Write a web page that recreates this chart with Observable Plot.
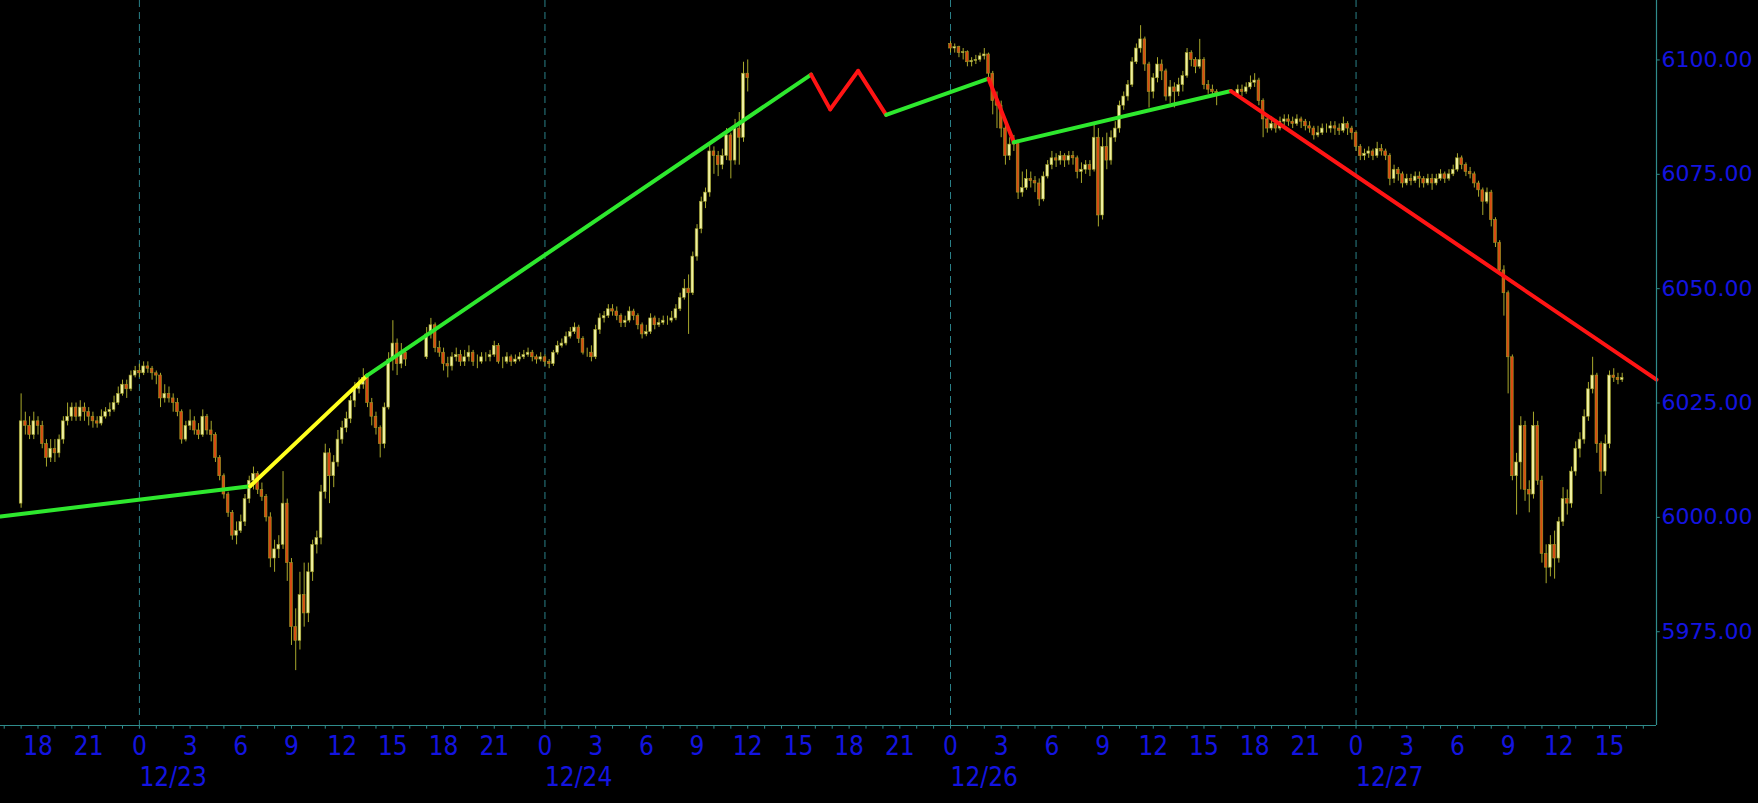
<!DOCTYPE html>
<html>
<head>
<meta charset="utf-8">
<script src="https://cdn.jsdelivr.net/npm/d3@7"></script>
<script src="https://cdn.jsdelivr.net/npm/@observablehq/plot@0.6"></script>
<style>
  html, body { margin: 0; padding: 0; background: #000; overflow: hidden; }
  #chart svg { display: block; }
</style>
</head>
<body>
<div id="chart"></div>
<script>
// Time is in hours from 12/23 00:00 (CT), with the 12/25 holiday removed from the axis.
// 15-minute candles, four sessions.
const sessionStart = [-7, 17, 48, 65];          // 12/22 17:00, 12/23 17:00, 12/26 00:00, 12/26 17:00
const sessionFirstOpen = [6003, 6035, 6103.5, 6092.5];

const closesA = [6021,6020,6018,6021,6020,6016,6013,6015,6014,6017,
6021,6022,6024,6022,6024,6023,6022,6021,6020.5,6022,
6023,6023.5,6025,6027,6029,6028,6031,6032,6031.5,6033,
6032.5,6031.5,6031,6026,6027,6026,6025,6023,6017,6020,
6021,6019,6018,6022,6019,6018,6013,6009,6005,6001,
5996,5997,5999,6004,6008,6009.5,6006,6004.5,6000,5991,
5993,5994,6003,5990,5976,5973,5983,5979,5988,5994,
5995.5,6005.5,6014,6009,6012,6017,6019.5,6021.5,6025.5,6028,
6029,6030.5,6025,6022,6019.5,6016,6024,6034.5,6038,6033.5,
6036,6034.5];
const highsA = [6027,6023,6022,6023,6022,6021,6017,6017,6017,6018,
6022,6025,6025,6025,6025.5,6025,6024,6023,6022,6023.5,
6024,6025,6026.5,6028.5,6030,6030,6032,6033,6033.5,6034,
6034,6033,6032,6031.5,6029,6028.5,6027,6026,6023.5,6021,
6023.5,6022,6020.5,6023.5,6022.5,6021,6018.5,6013.5,6009.5,6005.5,
6001.5,5999,6000.5,6005,6009,6011,6010,6007.5,6005,6001,
5995,5996,6010,6004,5991,5980,5988,5990,5990,5995,
5997,6007,6016,6015,6013.5,6019,6021,6023,6026.5,6029.5,
6030.5,6032.5,6031,6026,6023,6020,6025,6036,6043,6039,
6038,6037];
const lowsA = [6002,6018,6017,6017,6018,6015,6011,6012,6012,6013,
6016,6020,6021,6021,6021,6021,6020,6019.5,6019.5,6020,
6021.5,6022,6023,6024.5,6026.5,6026,6027.5,6030.5,6030.5,6031,
6031.5,6030,6029,6024,6025,6025,6023,6022,6016,6016.5,
6019,6018,6017,6017.5,6018,6016.5,6012,6008,6004,6000,
5995,5994,5996.5,5998,6003,6006,6005,6003.5,5999,5989,
5988,5991,5993,5986,5972,5966.5,5971,5976,5977,5986,
5992,5994,6004,6003,6006.5,6011,6016,6018.5,6020.5,6024,
6027,6028,6024,6020,6018,6013,6015,6023.5,6032,6031,
6032.5,6033];

const closesB = [6040,6042,6037,6036,6033.5,6033,6035,6035.5,6034,6035,
6036,6034,6034,6035,6035,6035.5,6037.5,6034,6034,6035,
6034,6034.5,6035,6035.5,6036,6035,6034.5,6035,6034,6033.5,
6036,6037.5,6038,6039.5,6040.5,6041.5,6039,6036,6036,6035,
6041,6043.5,6044,6045.5,6045,6044,6042.5,6043,6045,6044,
6042,6040,6040.5,6043.5,6042,6042.5,6043,6043,6043.5,6045.5,
6048,6050,6049,6057,6063,6069,6071,6080,6079,6077,
6079,6083.5,6078,6085,6083,6097,6096];
const highsB = [6041.5,6043.5,6042.5,6038.5,6037,6035,6036,6037,6036.5,6036.5,
6037.5,6036.5,6035.5,6036,6036,6036.5,6038.5,6038,6035,6036,
6035.5,6035.5,6036,6036.5,6037,6036.5,6035.5,6036,6035.5,6034.5,
6036.5,6038.5,6039,6040.5,6041.5,6042.5,6042,6039.5,6037,6037.5,
6042,6044.5,6045,6046.5,6046.5,6046,6044.5,6044,6046,6045.5,
6044.5,6042.5,6042,6044.5,6044,6043.5,6044,6044,6045,6046.5,
6049,6052,6053,6058,6064,6070,6072,6081.5,6081,6080,
6080.5,6085,6084,6087,6088.5,6099.5,6100];
const lowsB = [6034.5,6039,6036,6035,6032,6030.5,6032,6034,6033,6033,
6034,6033,6032.5,6033.5,6034,6034,6035,6033.5,6032.5,6033.5,
6033,6033.5,6034,6034.5,6035,6034,6033.5,6034,6033,6032.5,
6033,6035.5,6037,6037.5,6039,6040,6038,6035.5,6035,6034,
6034.5,6040,6042.5,6043.5,6044,6043,6041.5,6041.5,6042.5,6043,
6041,6039,6039.5,6040,6041,6041.5,6042,6042,6042.5,6043,
6045,6047.5,6040,6048.5,6056,6062,6067.5,6070,6075,6074.5,
6076,6078,6074,6077,6077,6082,6093];

const closesC = [6102.5,6102.8,6101.5,6101.7,6099.5,6099.8,6100,6100.8,6101.2,6097,
6091,6090,6085,6079,6081.5,6082,6071,6072,6074,6073.5,
6073,6069.5,6074.5,6077,6078.5,6078,6079,6078,6079,6078.5,
6075.5,6076,6077,6076,6083,6066,6081,6078,6083,6085,
6090,6092,6094.5,6099.5,6102.5,6104.5,6099,6093,6096,6099,
6097.5,6092,6094,6093,6094.5,6096.5,6101.5,6100,6098.5,6100,
6094.5,6093.5,6093,6092.5];
const highsC = [6104,6103.5,6103,6102.5,6102,6100.5,6101,6101.5,6102.5,6101.5,
6097.5,6093,6091,6086,6083,6083.5,6082.5,6075.5,6076,6075.5,
6074.5,6074,6075.5,6078,6080,6079.5,6080,6079.5,6080,6080,
6079,6077.5,6078,6078,6086,6085,6083,6084,6084.5,6086.5,
6091,6093,6095.5,6100.5,6103.5,6107.5,6105,6099.5,6097,6100.5,
6100,6098,6095.5,6095,6096,6097.5,6102.5,6102,6100.5,6104.5,
6100.5,6095.5,6094.5,6093.5];
const lowsC = [6101.5,6101.5,6100.5,6100,6098.5,6098.5,6099,6099.5,6100,6096,
6088,6085,6083,6077,6078,6080,6069.5,6070,6071.5,6072,
6071,6068,6069,6074,6076,6076.5,6077,6076.5,6077,6077,
6074,6073,6075,6074.5,6075.5,6063.5,6065,6076,6077,6082,
6084,6089,6091,6094,6099,6101.5,6097.5,6089.5,6091.5,6095,
6095.5,6091,6090.5,6089.5,6092,6093,6096,6098.5,6097,6098,
6093.5,6092.5,6092,6090];

const closesD = [6093.5,6093,6094,6095,6095.5,6091,6087,6085,6086,6085,
6086.5,6087,6086.5,6086,6087,6086.5,6085.5,6085,6083.5,6084,
6085,6085,6085.5,6085,6084.5,6086,6085,6084,6081,6079,
6079.5,6080,6079,6080.5,6080,6079,6074,6076,6075,6073,
6074,6073.5,6074.5,6074,6073,6074,6073,6074,6075,6074,
6075,6076,6078.5,6077,6075.5,6075,6073,6071.5,6069,6071,
6065,6060,6054,6049,6035,6009,6012,6020,6006,6005,
6020,6008,5992,5989,5994,5991,5999,6004,6003,6010,
6015,6017,6022,6028,6031,6016,6010,6016,6031,6030.5,
6030,6030.5];
const highsD = [6094.5,6094.5,6095,6096.5,6097,6096,6091.5,6088,6087.5,6087,
6087.5,6088,6088,6087.5,6088,6087.5,6087,6086.5,6085.5,6085.5,
6086,6086,6086.5,6086.5,6086,6087.5,6086.5,6085.5,6084.5,6081.5,
6080.5,6081,6080.5,6082,6081.5,6080.5,6079.5,6077,6076.5,6075.5,
6075,6075,6075.5,6075.5,6074.5,6075,6075,6075,6076,6075.5,
6076,6077,6079.5,6079,6077.5,6076.5,6075.5,6073.5,6072,6072,
6071.5,6065.5,6060.5,6055,6049.5,6035.5,6014,6022,6021,6008,
6023,6021,6009,5994,5996,5997,6000,6006.5,6006,6011,
6016.5,6018.5,6023.5,6029.5,6035,6031.5,6016.5,6018,6032,6032.5,
6031.5,6031.5];
const lowsD = [6092,6092,6092.5,6093.5,6094,6090,6083,6084,6084.5,6084,
6084.5,6085.5,6085.5,6085,6085.5,6085,6084.5,6084,6082.5,6083,
6083.5,6084,6084,6083.5,6083.5,6084,6083.5,6082.5,6080,6078,
6078,6078.5,6078,6078.5,6079,6078,6072.5,6073,6073.5,6072,
6072.5,6072.5,6073,6072,6072,6072.5,6071.5,6072.5,6073.5,6073,
6073.5,6074.5,6075.5,6076,6074.5,6074,6072,6070,6066,6068.5,
6063.5,6059,6053,6044,6027,6008,6000.5,6006,6003.5,6001,
6004,6007,5990,5985.5,5987,5986.5,5990,5998,6000.5,6002,
6009,6013,6016,6021,6027,6014,6005,6009,6015,6029.5,
6029,6029.5];

// Trend line vertices (hours, price) and colour of each segment
const trendT = [-8.22, 6.55, 13.47, 39.75, 40.88, 42.53, 44.19, 50.25, 51.75, 64.6, 89.78];
const trendP = [6000.2, 6006.8, 6031.0, 6096.8, 6089.2, 6097.6, 6088.0, 6095.9, 6082.0, 6093.2, 6030.1];
const trendColor = ["green","yellow","green","red","red","red","green","red","green","red"];

// Axis ticks
const hourTicks = [-6,-3,0,3,6,9,12,15,18,21,24,27,30,33,36,39,42,45,48,51,54,57,60,63,66,69,72,75,78,81,84,87];
const hourLabels = ["18","21","0","3","6","9","12","15","18","21","0","3","6","9","12","15","18","21","0","3","6","9","12","15","18","21","0","3","6","9","12","15"];
const dateTicks = [0, 24, 48, 72];
const dateLabels = ["12/23","12/24","12/26","12/27"];
const priceTicks = [5975, 6000, 6025, 6050, 6075, 6100];

// ---- build tables ----
const sessions = [
  [closesA, highsA, lowsA], [closesB, highsB, lowsB],
  [closesC, highsC, lowsC], [closesD, highsD, lowsD]
];
const candles = [];
sessions.forEach(([cl, hi, lo], s) => {
  cl.forEach((c, k) => {
    const o = k === 0 ? sessionFirstOpen[s] : cl[k - 1];
    candles.push({t: sessionStart[s] + k * 0.25, o, c,
      h: Math.max(hi[k], o, c), l: Math.min(lo[k], o, c)});
  });
});
const palette = {green: "#2ee82e", yellow: "#ffff1e", red: "#ff1414"};
const trend = [];
trendColor.forEach((col, i) => {
  trend.push({s: i, t: trendT[i], p: trendP[i], col: palette[col]});
  trend.push({s: i, t: trendT[i + 1], p: trendP[i + 1], col: palette[col]});
});
const minorTicks = d3.range(-8, 90, 1);

const X0 = -8.22, X1 = 89.78, Y0 = 5954.5, Y1 = 6113.0;
const teal = "#2f8c8c";
const blue = "#1414e0";
const narrow = "'Liberation Sans Narrow','DejaVu Sans Condensed','Arial Narrow',sans-serif";

const chart = Plot.plot({
  width: 1758,
  height: 803,
  marginLeft: 0,
  marginRight: 102,
  marginTop: 0,
  marginBottom: 78,
  style: {background: "#000", overflow: "visible"},
  x: {domain: [X0, X1], axis: null},
  y: {domain: [Y0, Y1], axis: null},
  color: {type: "identity"},
  marks: [
    // day separators
    Plot.ruleX(dateTicks, {x: d => d, stroke: "#2a8088", strokeWidth: 1, strokeDasharray: "7,5"}),
    // candles
    Plot.ruleX(candles, {x: "t", y1: "l", y2: "h", stroke: "#a8a82c", strokeWidth: 1}),
    Plot.rect(candles, {x1: d => d.t - 0.08, x2: d => d.t + 0.08, y1: "o", y2: "c",
      fill: d => d.c >= d.o ? "#f0f0a0" : "#d84a12", stroke: "#9c9c26", strokeWidth: 0.6}),
    // trend lines
    Plot.line(trend, {x: "t", y: "p", z: "s", stroke: "col", strokeWidth: 4, strokeLinecap: "round"}),
    // axes lines
    Plot.ruleY([Y0], {stroke: teal, strokeWidth: 1.2}),
    Plot.ruleX([X1], {stroke: teal, strokeWidth: 1.2}),
    Plot.ruleX(minorTicks, {x: d => d, y1: Y0, y2: Y0 - 0.8, stroke: teal}),
    Plot.ruleY(priceTicks, {y: d => d, x1: X1, x2: X1 + 0.22, stroke: teal}),
    // labels
    Plot.text(hourTicks, {x: d => d, text: (d, i) => hourLabels[i], frameAnchor: "bottom", dy: 29,
      fill: blue, fontSize: 26, fontFamily: narrow}),
    Plot.text(dateTicks, {x: d => d, text: (d, i) => dateLabels[i], frameAnchor: "bottom", dy: 60,
      textAnchor: "start", fill: blue, fontSize: 26, fontFamily: narrow}),
    Plot.text(priceTicks, {y: d => d, text: d => d.toFixed(2), frameAnchor: "right", dx: 5,
      textAnchor: "start", fill: blue, fontSize: 22, fontFamily: "'DejaVu Sans',Verdana,sans-serif"})
  ]
});
document.getElementById("chart").appendChild(chart);
</script>
</body>
</html>
